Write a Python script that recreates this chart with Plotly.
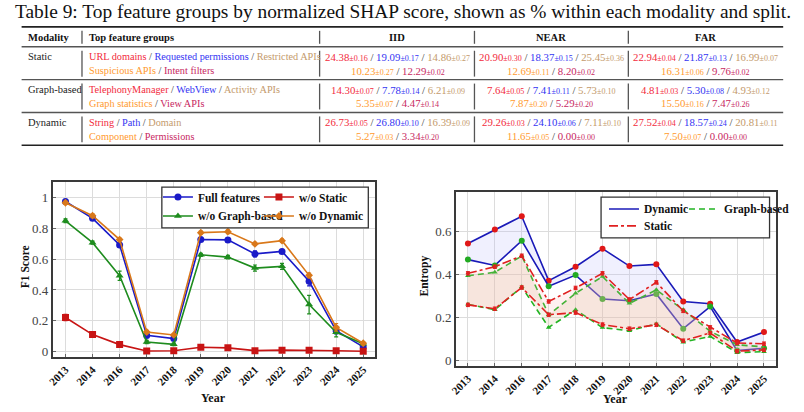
import plotly.graph_objects as go

W, H = 804, 412
SERIF = "Liberation Serif"

# ---------------- table data ----------------
title_text = "Table 9: Top feature groups by normalized SHAP score, shown as % within each modality and split."
modalities = ["Static", "Graph-based", "Dynamic"]
features = {
    "Static": ["URL domains", "Requested permissions", "Restricted APIs", "Suspicious APIs", "Intent filters"],
    "Graph-based": ["TelephonyManager", "WebView", "Activity APIs", "Graph statistics", "View APIs"],
    "Dynamic": ["String", "Path", "Domain", "Component", "Permissions"],
}
splits = ["IID", "NEAR", "FAR"]
iid_mean = {"Static": [24.38, 19.09, 14.86, 10.23, 12.29],
            "Graph-based": [14.30, 7.78, 6.21, 5.35, 4.47],
            "Dynamic": [26.73, 26.80, 16.39, 5.27, 3.34]}
iid_std = {"Static": [0.16, 0.17, 0.27, 0.27, 0.02],
           "Graph-based": [0.07, 0.14, 0.09, 0.07, 0.14],
           "Dynamic": [0.05, 0.10, 0.09, 0.03, 0.20]}
near_mean = {"Static": [20.90, 18.37, 25.45, 12.69, 8.20],
             "Graph-based": [7.64, 7.41, 5.73, 7.87, 5.29],
             "Dynamic": [29.26, 24.10, 7.11, 11.65, 0.00]}
near_std = {"Static": [0.30, 0.15, 0.36, 0.11, 0.02],
            "Graph-based": [0.05, 0.11, 0.10, 0.20, 0.20],
            "Dynamic": [0.03, 0.06, 0.10, 0.05, 0.00]}
far_mean = {"Static": [22.94, 21.87, 16.99, 16.31, 9.76],
            "Graph-based": [4.81, 5.30, 4.93, 15.50, 7.47],
            "Dynamic": [27.52, 18.57, 20.81, 7.50, 0.00]}
far_std = {"Static": [0.04, 0.13, 0.07, 0.06, 0.02],
           "Graph-based": [0.03, 0.08, 0.12, 0.16, 0.26],
           "Dynamic": [0.04, 0.24, 0.11, 0.07, 0.00]}
feat_colors = ["#F22A3C", "#3434F2", "#C49A6C", "#FF9A2E", "#C8285F"]

# ---------------- chart data ----------------
years = ["2013", "2014", "2016", "2017", "2018", "2019", "2020", "2021", "2022", "2023", "2024", "2025"]

f1_full = [0.974, 0.865, 0.692, 0.105, 0.084, 0.727, 0.725, 0.634, 0.650, 0.456, 0.135, 0.030]
f1_full_err = [0.010, 0.010, 0.015, 0.010, 0.010, 0.012, 0.015, 0.020, 0.012, 0.030, 0.020, 0.008]
f1_wo_static = [0.221, 0.110, 0.045, 0.004, 0.005, 0.028, 0.024, 0.006, 0.009, 0.009, 0.005, 0.002]
f1_wo_static_err = [0.020, 0.008, 0.006, 0.003, 0.003, 0.004, 0.004, 0.003, 0.003, 0.003, 0.002, 0.002]
f1_wo_graph = [0.849, 0.707, 0.492, 0.062, 0.047, 0.628, 0.613, 0.542, 0.553, 0.305, 0.125, 0.050]
f1_wo_graph_err = [0.012, 0.010, 0.030, 0.010, 0.008, 0.010, 0.012, 0.020, 0.020, 0.060, 0.030, 0.010]
f1_wo_dynamic = [0.966, 0.882, 0.727, 0.127, 0.108, 0.772, 0.778, 0.699, 0.720, 0.495, 0.157, 0.054]
f1_wo_dynamic_err = [0.010, 0.012, 0.010, 0.010, 0.008, 0.010, 0.012, 0.010, 0.010, 0.015, 0.025, 0.008]

ent_dyn_hi = [0.544, 0.609, 0.671, 0.371, 0.436, 0.520, 0.439, 0.447, 0.274, 0.263, 0.085, 0.131]
ent_dyn_lo = [0.469, 0.442, 0.557, 0.345, 0.397, 0.285, 0.277, 0.309, 0.147, 0.250, 0.045, 0.056]
ent_graph_hi = [0.394, 0.410, 0.486, 0.212, 0.312, 0.390, 0.265, 0.328, 0.235, 0.135, 0.072, 0.062]
ent_graph_lo = [0.261, 0.235, 0.342, 0.153, 0.235, 0.152, 0.137, 0.170, 0.084, 0.111, 0.035, 0.040]
ent_static_hi = [0.405, 0.436, 0.487, 0.274, 0.337, 0.405, 0.283, 0.363, 0.230, 0.153, 0.080, 0.077]
ent_static_lo = [0.258, 0.240, 0.339, 0.212, 0.222, 0.166, 0.147, 0.165, 0.091, 0.127, 0.042, 0.048]


def P(px, py):
    return px / W, 1 - py / H


def font(size, color="#111", bold=False):
    d = dict(family=SERIF, size=size, color=color)
    if bold:
        d["weight"] = "bold"
    return d


fig = go.Figure()

# ---------------- left chart ----------------
left_series = [
    ("Full features", f1_full, f1_full_err, "#1A1AC8", "circle", 7, "legend", None),
    ("w/o Static", f1_wo_static, f1_wo_static_err, "#C81414", "square", 7, "legend", 75),
    ("w/o Graph-based", f1_wo_graph, f1_wo_graph_err, "#1E8C1E", "triangle-up", 7, "legend2", None),
    ("w/o Dynamic", f1_wo_dynamic, f1_wo_dynamic_err, "#D9781A", "diamond", 6, "legend2", 75),
]
for name, ys, errs, col, sym, ms, lg, lw in left_series:
    kw = {}
    if lw:
        kw["legendwidth"] = lw
    fig.add_trace(go.Scatter(
        x=years, y=ys, name=name, mode="lines+markers",
        line=dict(color=col, width=1.6),
        marker=dict(color=col, symbol=sym, size=ms),
        error_y=dict(type="data", array=errs, color=col, thickness=1.2, width=2),
        xaxis="x", yaxis="y", legend=lg, **kw,
    ))

# ---------------- right chart ----------------
C_DYN, C_GR, C_ST = "#1A1AB8", "#22B422", "#E02020"
fig.add_trace(go.Scatter(x=years, y=ent_dyn_hi, mode="lines+markers", showlegend=False,
                         line=dict(color=C_DYN, width=1.6), marker=dict(color="#E01818", size=6),
                         xaxis="x2", yaxis="y2"))
fig.add_trace(go.Scatter(x=years, y=ent_dyn_lo, mode="lines+markers", showlegend=False,
                         line=dict(color=C_DYN, width=1.6), marker=dict(color="#22AA22", size=6),
                         fill="tonexty", fillcolor="rgba(185,185,250,0.22)",
                         xaxis="x2", yaxis="y2"))
fig.add_trace(go.Scatter(x=years, y=ent_graph_hi, mode="lines+markers", showlegend=False,
                         line=dict(color=C_GR, width=1.6, dash="6px,4px"),
                         marker=dict(color=C_GR, size=5, symbol="triangle-up"),
                         xaxis="x2", yaxis="y2"))
fig.add_trace(go.Scatter(x=years, y=ent_graph_lo, mode="lines+markers", showlegend=False,
                         line=dict(color=C_GR, width=1.6, dash="6px,4px"),
                         marker=dict(color=C_GR, size=5, symbol="triangle-up"),
                         fill="tonexty", fillcolor="rgba(220,200,165,0.25)",
                         xaxis="x2", yaxis="y2"))
fig.add_trace(go.Scatter(x=years, y=ent_static_hi, mode="lines+markers", showlegend=False,
                         line=dict(color=C_ST, width=1.6, dash="dashdot"),
                         marker=dict(color=C_ST, size=4),
                         error_y=dict(type="constant", value=0.008, color=C_ST, thickness=1, width=2),
                         xaxis="x2", yaxis="y2"))
fig.add_trace(go.Scatter(x=years, y=ent_static_lo, mode="lines+markers", showlegend=False,
                         line=dict(color=C_ST, width=1.6, dash="dashdot"),
                         marker=dict(color=C_ST, size=4),
                         error_y=dict(type="constant", value=0.008, color=C_ST, thickness=1, width=2),
                         fill="tonexty", fillcolor="rgba(255,170,170,0.16)",
                         xaxis="x2", yaxis="y2"))
# legend-only entries (no marks)
for name, col, dash, lg, lw in [("Dynamic", C_DYN, "solid", "legend3", None),
                                ("Graph-based", C_GR, "6px,4px", "legend3", 75),
                                ("Static", C_ST, "dashdot", "legend4", None)]:
    kw = {}
    if lw:
        kw["legendwidth"] = lw
    fig.add_trace(go.Scatter(x=[None], y=[None], mode="lines", name=name,
                             line=dict(color=col, width=1.6, dash=dash),
                             xaxis="x2", yaxis="y2", legend=lg, **kw))

# ---------------- axes ----------------
axis_common = dict(showline=True, mirror=True, linecolor="#3a3a3a", linewidth=1.6,
                   showgrid=True, gridcolor="#DCDCDC", gridwidth=1, zeroline=False,
                   ticks="inside", ticklen=3, tickcolor="#666")
xl0, _ = P(47, 0); xl1, _ = P(378, 0)
_, yl1 = P(0, 183); _, yl0 = P(0, 359)
xr0, _ = P(461, 0); xr1, _ = P(790, 0)
_, yr1 = P(0, 193); _, yr0 = P(0, 368)

xtick_font = font(11, "#111", bold=True)
ytick_font = font(13, "#444")

fig.update_layout(
    xaxis=dict(domain=[xl0, xl1], anchor="y", type="category", range=[-0.47, 11.44],
               tickangle=-45, tickfont=xtick_font, **axis_common),
    yaxis=dict(domain=[yl0, yl1], anchor="x", range=[-0.037, 1.1],
               tickvals=[0, 0.2, 0.4, 0.6, 0.8, 1.0], ticktext=["0", "0.2", "0.4", "0.6", "0.8", "1"],
               tickfont=ytick_font, **axis_common),
    xaxis2=dict(domain=[xr0, xr1], anchor="y2", type="category", range=[-0.445, 11.46],
                tickangle=-45, tickfont=xtick_font, **axis_common),
    yaxis2=dict(domain=[yr0, yr1], anchor="x2", range=[-0.028, 0.784],
                tickvals=[0, 0.2, 0.4, 0.6], ticktext=["0", "0.2", "0.4", "0.6"],
                tickfont=ytick_font, **axis_common),
)

# ---------------- legends ----------------
leg_font = font(11.5, "#111", bold=True)
def leg(px, py, ew):
    x, y = P(px, py)
    return dict(x=x, y=y, xanchor="left", yanchor="middle", orientation="h",
                bgcolor="rgba(0,0,0,0)", borderwidth=0, font=leg_font,
                entrywidth=ew, entrywidthmode="pixels", itemwidth=30, traceorder="normal")

fig.update_layout(
    legend=leg(155, 198, 56),
    legend2=leg(155, 217, 56),
    legend3=leg(613, 210, 35),
    legend4=leg(613, 227, 35),
)

shapes = []
def rect(x0, y0, x1, y1):
    a0, b0 = P(x0, y0); a1, b1 = P(x1, y1)
    shapes.append(dict(type="rect", xref="paper", yref="paper", x0=a0, y0=b1, x1=a1, y1=b0,
                       line=dict(color="#333", width=1.3), fillcolor="white", layer="above"))
rect(159, 188, 371, 229)
rect(610, 198, 783, 239)

# ---------------- table ----------------
def hline(y, x0=15, x1=797, width=1.4, color="#333"):
    a0, b = P(x0, y); a1, _ = P(x1, y)
    shapes.append(dict(type="line", xref="paper", yref="paper", x0=a0, x1=a1, y0=b, y1=b,
                       line=dict(color=color, width=width)))

def vline(x, y0, y1):
    a, b0 = P(x, y0); _, b1 = P(x, y1)
    shapes.append(dict(type="line", xref="paper", yref="paper", x0=a, x1=a, y0=b0, y1=b1,
                       line=dict(color="#555", width=1.3)))

hline(27, width=1.6, color="#222")
hline(47, color="#555")
hline(80, color="#555")
hline(113, color="#555")
hline(146, width=1.6, color="#222")

sep_x = [77, 321, 480, 638]
for (ya, yb) in [(31, 44), (51, 77), (84, 110), (117, 143)]:
    for sx in sep_x:
        vline(sx, ya, yb)

annotations = []
def ann(px, py, text, size=11, anchor="left", color="#222", bold=False, **kw):
    x, y = P(px, py)
    annotations.append(dict(x=x, y=y, xref="paper", yref="paper", text=text, showarrow=False,
                            xanchor=anchor, yanchor="middle",
                            font=font(size, color, bold), **kw))

ann(6, 12, title_text, size=19.4, color="#111")

# header
ann(19, 38, "Modality", size=10.5, bold=True, color="#111")
ann(82, 38, "Top feature groups", size=10.5, bold=True, color="#111")
for sp, cx in zip(splits, [400, 559, 717]):
    ann(cx, 38, sp, size=10.5, bold=True, color="#111", anchor="center")

SLASH = '<span style="color:#333"> / </span>'

def feat_line(names, cols):
    return SLASH.join(f'<span style="color:{c}">{n}</span>' for n, c in zip(names, cols))

def val_line(ms, ss, cols):
    parts = []
    for m, s, c in zip(ms, ss, cols):
        parts.append(f'<span style="color:{c}">{m:.2f}</span>'
                     f'<span style="color:{c};font-size:8px">±{s:.2f}</span>')
    return SLASH.join(parts)

row_y = {"Static": (57, 71), "Graph-based": (90, 104), "Dynamic": (123, 137)}
split_data = [(iid_mean, iid_std, 401), (near_mean, near_std, 559), (far_mean, far_std, 717)]
for mod in modalities:
    y1, y2 = row_y[mod]
    ann(19, y1, mod, size=10.5, color="#222")
    f = features[mod]
    ann(82, y1, feat_line(f[:3], feat_colors[:3]), size=10.25)
    ann(82, y2, feat_line(f[3:], feat_colors[3:]), size=10.25)
    for means, stds, cx in split_data:
        ms, ss = means[mod], stds[mod]
        ann(cx, y1, val_line(ms[:3], ss[:3], feat_colors[:3]), size=10.8, anchor="center")
        ann(cx, y2, val_line(ms[3:], ss[3:], feat_colors[3:]), size=10.8, anchor="center")

# axis titles
ann(18, 268, "F1 Score", size=11.5, bold=True, color="#111", anchor="center", textangle=-90)
ann(212, 400, "Year", size=12, bold=True, color="#111", anchor="center")
ann(429, 277, "Entropy", size=11.5, bold=True, color="#111", anchor="center", textangle=-90)
ann(625, 401, "Year", size=12, bold=True, color="#111", anchor="center")

fig.update_layout(
    width=W, height=H, autosize=False,
    margin=dict(l=0, r=0, t=0, b=0),
    paper_bgcolor="white", plot_bgcolor="white",
    shapes=shapes, annotations=annotations,
)

fig.write_html("out.html")
